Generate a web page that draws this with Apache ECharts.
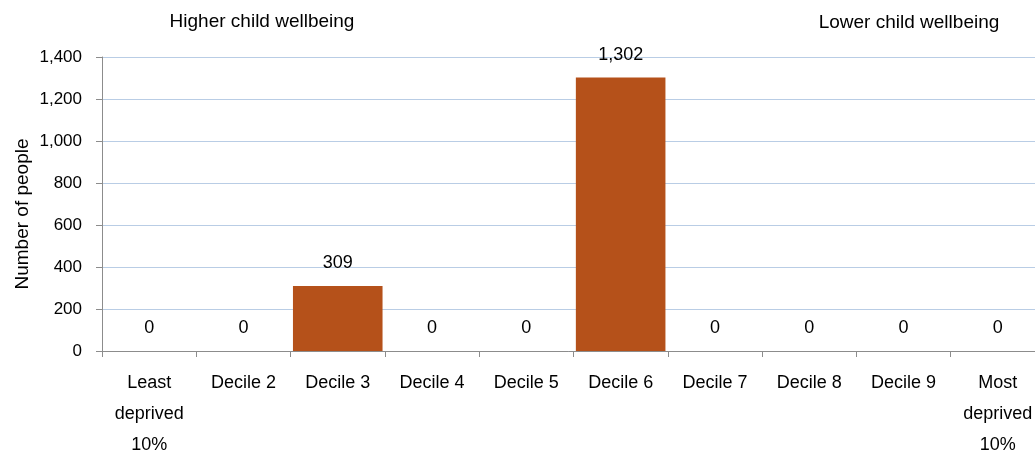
<!DOCTYPE html>
<html>
<head>
<meta charset="utf-8">
<script src="https://cdn.jsdelivr.net/npm/echarts@6/dist/echarts.min.js"></script>
<style>
html,body{margin:0;padding:0;background:#fff;overflow:hidden;}
#main{width:1035px;height:454px;}
</style>
</head>
<body>
<div id="main"></div>
<script>
var categories = ['Least\ndeprived\n10%', 'Decile 2', 'Decile 3', 'Decile 4', 'Decile 5', 'Decile 6', 'Decile 7', 'Decile 8', 'Decile 9', 'Most\ndeprived\n10%'];
var values = [0, 0, 309, 0, 0, 1302, 0, 0, 0, 0];
var yTicks = {min: 0, max: 1400, interval: 200};
var yAxisTitle = 'Number of people';
var leftNote = 'Higher child wellbeing';
var rightNote = 'Lower child wellbeing';

var FONT = '"Liberation Sans", Arial, sans-serif';
function fmt(v){ return Number(v).toLocaleString('en-US'); }

var chart = echarts.init(document.getElementById('main'), null, {renderer: 'canvas'});
chart.setOption({
  animation: false,
  backgroundColor: '#ffffff',
  textStyle: {fontFamily: FONT},
  grid: {left: 102, right: -10, top: 57, bottom: 103, containLabel: false, outerBoundsMode: 'none'},
  graphic: [
    {type: 'text', x: 262, y: 22, style: {text: leftNote, font: '19px ' + FONT, fill: '#000', textAlign: 'center', textVerticalAlign: 'middle'}},
    {type: 'text', x: 909, y: 23, style: {text: rightNote, font: '19px ' + FONT, fill: '#000', textAlign: 'center', textVerticalAlign: 'middle'}},
    {type: 'text', x: 23, y: 214, rotation: Math.PI / 2, style: {text: yAxisTitle, font: '19px ' + FONT, fill: '#000', textAlign: 'center', textVerticalAlign: 'middle'}}
  ],
  xAxis: {
    type: 'category',
    data: categories,
    axisLine: {show: true, lineStyle: {color: '#8c8c8c', width: 1}},
    axisTick: {show: true, length: 6, lineStyle: {color: '#8c8c8c'}},
    axisLabel: {color: '#000', fontSize: 18, fontFamily: FONT, lineHeight: 31, margin: 17, interval: 0}
  },
  yAxis: {
    type: 'value',
    min: yTicks.min, max: yTicks.max, interval: yTicks.interval,
    axisLine: {show: true, lineStyle: {color: '#8c8c8c', width: 1}},
    axisTick: {show: true, length: 6, lineStyle: {color: '#8c8c8c'}},
    axisLabel: {color: '#000', fontSize: 17, fontFamily: FONT, margin: 20, formatter: fmt},
    splitLine: {show: true, lineStyle: {color: '#B9CDE5', width: 1}}
  },
  series: [{
    type: 'bar',
    data: values,
    barCategoryGap: '5%',
    itemStyle: {color: '#B5511A'},
    label: {show: true, position: 'top', distance: 14, color: '#000', fontSize: 18, fontFamily: FONT, formatter: function(p){ return fmt(p.value); }}
  }]
});
</script>
</body>
</html>
